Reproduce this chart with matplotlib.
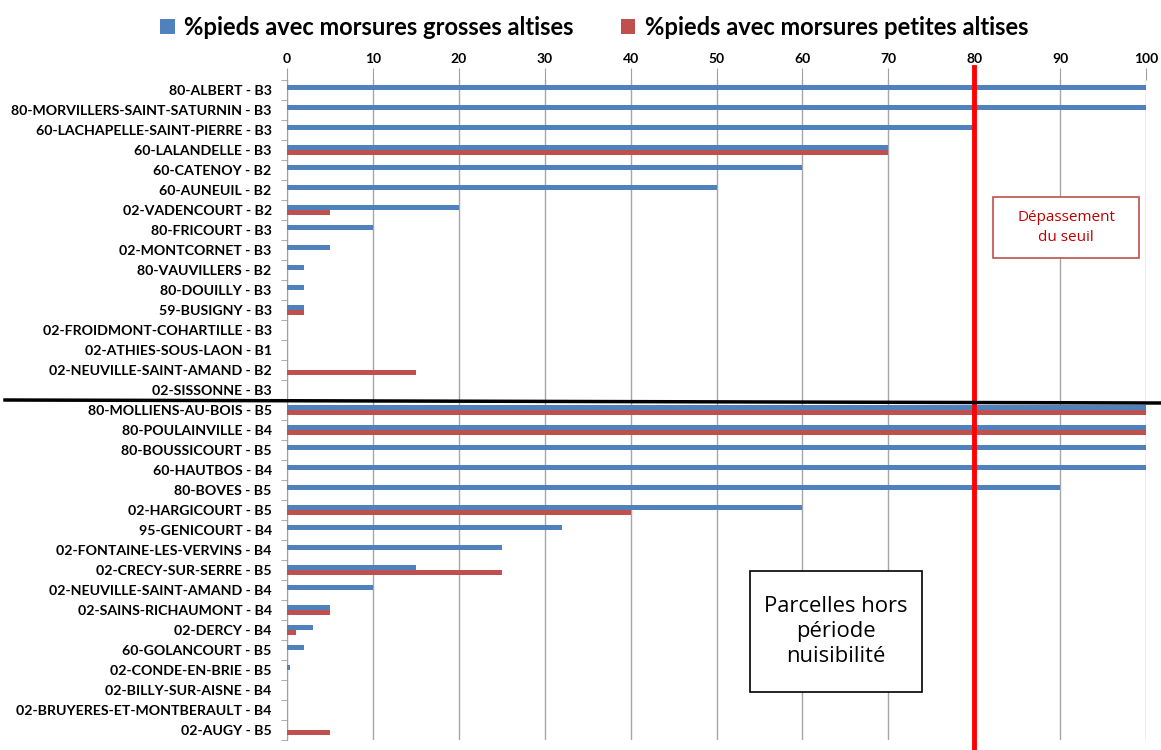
import matplotlib
matplotlib.use("Agg")
import matplotlib.pyplot as plt
from matplotlib.patches import Rectangle, Patch
from matplotlib.lines import Line2D
import matplotlib.transforms as mtransforms
import numpy as np

categories = [
    "80-ALBERT - B3", "80-MORVILLERS-SAINT-SATURNIN - B3", "60-LACHAPELLE-SAINT-PIERRE - B3",
    "60-LALANDELLE - B3", "60-CATENOY - B2", "60-AUNEUIL - B2", "02-VADENCOURT - B2",
    "80-FRICOURT - B3", "02-MONTCORNET - B3", "80-VAUVILLERS - B2", "80-DOUILLY - B3",
    "59-BUSIGNY - B3", "02-FROIDMONT-COHARTILLE - B3", "02-ATHIES-SOUS-LAON - B1",
    "02-NEUVILLE-SAINT-AMAND - B2", "02-SISSONNE - B3",
    "80-MOLLIENS-AU-BOIS - B5", "80-POULAINVILLE - B4", "80-BOUSSICOURT - B5",
    "60-HAUTBOS - B4", "80-BOVES - B5", "02-HARGICOURT - B5", "95-GENICOURT - B4",
    "02-FONTAINE-LES-VERVINS - B4", "02-CRECY-SUR-SERRE - B5", "02-NEUVILLE-SAINT-AMAND - B4",
    "02-SAINS-RICHAUMONT - B4", "02-DERCY - B4", "60-GOLANCOURT - B5", "02-CONDE-EN-BRIE - B5",
    "02-BILLY-SUR-AISNE - B4", "02-BRUYERES-ET-MONTBERAULT - B4", "02-AUGY - B5",
]
grosses = [100, 100, 80, 70, 60, 50, 20, 10, 5, 2, 2, 2, 0, 0, 0, 0,
           100, 100, 100, 100, 90, 60, 32, 25, 15, 10, 5, 3, 2, 0.3, 0, 0, 0]
petites = [0, 0, 0, 70, 0, 0, 5, 0, 0, 0, 0, 2, 0, 0, 15, 0,
           100, 100, 0, 0, 0, 40, 0, 0, 25, 0, 5, 1, 0, 0, 0, 0, 5]
xticks = list(range(0, 101, 10))
seuil = 80
series_names = ["%pieds avec morsures grosses altises", "%pieds avec morsures petites altises"]

BLUE = "#4F81BD"
RED = "#C0504D"
FONT = ["Liberation Sans Narrow", "Lato", "DejaVu Sans"]
plt.rcParams["font.family"] = FONT

n = len(categories)
fig = plt.figure(figsize=(11.61, 7.5), dpi=100)
ax = fig.add_axes([287/1161, 1-740/750, (1146-287)/1161, (740-80)/750])

y = np.arange(n)
h = 0.27
ax.barh(y - h/2, grosses, height=h, color=BLUE, zorder=3)
ax.barh(y + h/2, petites, height=h, color=RED, zorder=3)

ax.set_xlim(0, 100)
ax.set_ylim(n - 0.5, -0.5)
ax.set_xticks(xticks)
ax.xaxis.tick_top()
ax.tick_params(axis="x", which="major", length=9, color="#A0A0A0", pad=2,
               labelsize=10)
for lab in ax.get_xticklabels():
    lab.set_fontweight("bold")
ax.grid(axis="x", color="#A6A6A6", linewidth=1, zorder=0)

ax.set_yticks(y)
ax.set_yticklabels(categories, fontweight="bold", fontsize=10.2)
ax.set_yticks(np.arange(-0.5, n, 1), minor=True)
ax.tick_params(axis="y", which="major", length=0, pad=11)
ax.tick_params(axis="y", which="minor", length=4, color="#A0A0A0")

for s in ["top", "right", "bottom"]:
    ax.spines[s].set_visible(False)
ax.spines["left"].set_color("#A0A0A0")

# threshold line
ax.axvline(seuil, ymin=-0.02, ymax=1.02, color="#FF0000", linewidth=3.5,
           clip_on=False, zorder=5)

# separator line between groups
trans = mtransforms.blended_transform_factory(fig.transFigure, ax.transData)
fig.add_artist(Line2D([5/1161, 1.0], [15.5, 15.65], transform=trans,
                      color="black", linewidth=2.5, zorder=6))

# annotation boxes
ax.add_patch(Rectangle((82.2, 5.35), 17.0, 3.05, facecolor="white",
                       edgecolor="#C0504D", linewidth=1.2, zorder=6))
ax.text(90.7, 6.87, "Dépassement\ndu seuil", ha="center", va="center",
        color="#C00000", fontsize=11, family=["Open Sans", "DejaVu Sans"],
        linespacing=1.4, zorder=7)

ax.add_patch(Rectangle((53.9, 24.05), 20.0, 6.05, facecolor="white",
                       edgecolor="black", linewidth=1.2, zorder=6))
ax.text(63.9, 27.05, "Parcelles hors\npériode\nnuisibilité", ha="center", va="center",
        color="black", fontsize=15.8, family=["Open Sans", "DejaVu Sans"],
        linespacing=1.25, zorder=7)

handles = [Patch(facecolor=BLUE), Patch(facecolor=RED)]
fig.legend(handles, series_names, loc="upper center", bbox_to_anchor=(0.512, 1.007),
           ncol=2, frameon=False, handlelength=0.6, handleheight=0.6,
           handletextpad=0.4, columnspacing=2.0,
           prop={"weight": "bold", "size": 17.1})

fig.savefig("out.png", dpi=100)
